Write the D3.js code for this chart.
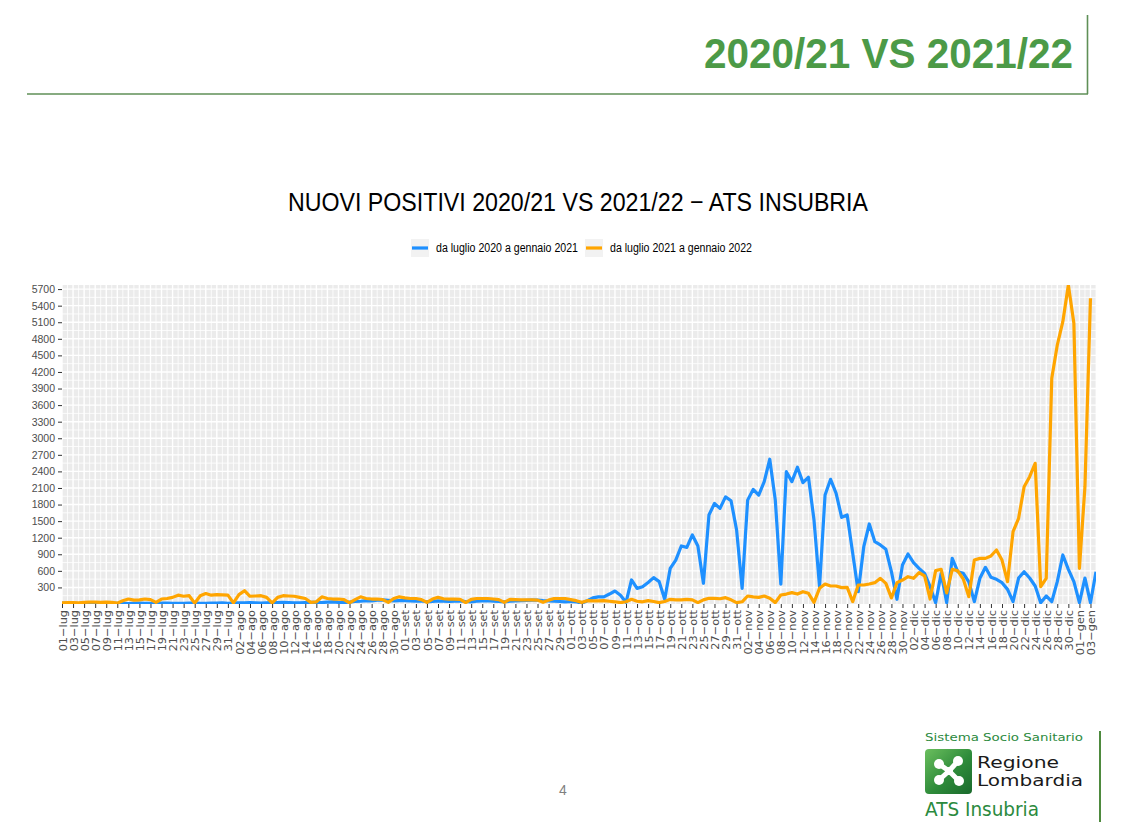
<!DOCTYPE html>
<html><head><meta charset="utf-8">
<script src="https://cdn.jsdelivr.net/npm/d3@7"></script>
<style>body{margin:0;background:#fff;} svg{display:block;}</style>
</head><body>
<svg id="c" width="1122" height="822"></svg>
<script>
// ---- data ----
const monthNames = ["lug","ago","set","ott","nov","dic","gen"];
const monthLengths = [31,31,30,31,30,31,4];
const categories = [];
monthNames.forEach((m, mi) => {
  for (let d = 1; d <= monthLengths[mi]; d++) categories.push(String(d).padStart(2, "0") + "\u2212" + m);
});
const series2020 = [
  15,12,10,8,10,14,12,15,10,12,
  14,10,8,12,15,14,10,12,15,16,
  14,10,12,18,15,14,10,16,18,20,
  14,18,20,22,25,20,15,20,24,26,
  28,25,20,22,25,30,28,25,35,40,
  30,25,35,45,50,60,55,70,75,65,
  55,60,60,55,50,55,40,45,55,50,
  45,50,55,45,40,50,55,60,50,45,
  40,50,55,60,65,70,72,60,55,50,
  45,40,45,40,15,60,110,130,130,180,
  235,160,30,435,283,313,390,477,405,85,
  645,795,1050,1025,1250,1050,375,1610,1820,1730,
  1940,1870,1340,283,1880,2075,1970,2215,2620,1880,
  360,2395,2215,2475,2197,2294,1520,313,1973,2257,
  2003,1569,1611,917,223,1037,1448,1128,1068,990,
  585,85,706,905,748,646,555,313,24,555,
  24,827,585,555,400,42,465,664,483,446,
  386,265,42,470,585,470,326,24,145,42,
  404,887,628,404,24,470,24,585
];
const series2021 = [
  20,25,25,20,30,35,35,30,35,30,
  15,60,90,70,75,90,80,30,90,100,
  120,160,140,150,15,150,190,160,170,165,
  160,20,170,240,140,145,150,120,20,120,
  150,145,140,120,100,30,40,130,100,90,
  90,80,20,80,130,100,90,90,80,30,
  100,130,110,100,100,80,30,90,120,95,
  90,90,85,25,85,100,100,100,90,80,
  30,85,80,75,75,75,70,30,70,100,
  100,100,80,60,30,60,55,55,60,50,
  40,25,40,85,50,40,60,45,25,45,
  85,75,75,85,75,25,75,103,103,95,
  115,75,25,40,145,130,120,145,103,25,
  163,180,205,180,223,193,30,283,362,326,
  326,296,302,42,344,344,362,386,465,374,
  110,386,434,494,465,567,507,90,604,628,
  200,628,600,450,133,796,826,826,869,977,
  796,404,1309,1551,2123,2304,2546,313,465,4085,
  4688,5110,5774,5080,646,2123,5533,
  null
];
const yTickValues = d3.range(300, 5701, 300);
const seriesNames = ["da luglio 2020 a gennaio 2021", "da luglio 2021 a gennaio 2022"];
const seriesColors = ["#1E90FF", "#FFA500"];
const allSeries = [series2020, series2021];

// ---- layout ----
const svg = d3.select("#c");
const P = {l: 62, r: 1096, t: 285, b: 604};
const narrow = "'Liberation Sans Narrow','Liberation Sans',Arial,sans-serif";
const green = "#4C9A47";

// header
svg.append("text").attr("x", 1073).attr("y", 68).attr("text-anchor", "end")
  .attr("textLength", 369).attr("lengthAdjust", "spacingAndGlyphs")
  .style("font-family", "'Liberation Sans',Arial,sans-serif").style("font-weight", "bold")
  .style("font-size", "42px").style("fill", green).text("2020/21 VS 2021/22");
svg.append("line").attr("x1", 27).attr("x2", 1088).attr("y1", 94).attr("y2", 94)
  .style("stroke", "#5F8F57").style("stroke-width", 1.6);
svg.append("line").attr("x1", 1087.5).attr("x2", 1087.5).attr("y1", 15).attr("y2", 94)
  .style("stroke", "#5F8F57").style("stroke-width", 1.6);

// title
svg.append("text").attr("x", 578).attr("y", 211).attr("text-anchor", "middle")
  .attr("textLength", 580).attr("lengthAdjust", "spacingAndGlyphs")
  .style("font-family", narrow).style("font-size", "26px").style("fill", "#000")
  .text("NUOVI POSITIVI 2020/21 VS 2021/22 \u2212 ATS INSUBRIA");

// legend
const legendItems = [{x: 411, tx: 436, tl: 142}, {x: 585, tx: 610, tl: 142}];
legendItems.forEach((li, i) => {
  svg.append("rect").attr("x", li.x).attr("y", 239).attr("width", 18).attr("height", 18).style("fill", "#F2F2F2");
  svg.append("line").attr("x1", li.x + 1).attr("x2", li.x + 17).attr("y1", 248).attr("y2", 248)
    .style("stroke", seriesColors[i]).style("stroke-width", 3.2);
  svg.append("text").attr("x", li.tx).attr("y", 252).attr("textLength", li.tl).attr("lengthAdjust", "spacingAndGlyphs")
    .style("font-family", narrow).style("font-size", "12px").style("fill", "#000").text(seriesNames[i]);
});

// scales
const x = d3.scalePoint().domain(categories).range([P.l, P.r]).padding(0);
const yMax = d3.max(allSeries.flat().filter(v => v != null));
const y = d3.scaleLinear().domain([0, yMax]).range([P.b, P.t]);

// panel
svg.append("rect").attr("x", P.l).attr("y", P.t).attr("width", P.r - P.l).attr("height", P.b - P.t).style("fill", "#EBEBEB");
const grid = svg.append("g");
const minorY = d3.range(150, yMax, 300);
grid.selectAll(".my").data(minorY).enter().append("line")
  .attr("x1", P.l).attr("x2", P.r).attr("y1", d => y(d)).attr("y2", d => y(d))
  .style("stroke", "#fff").style("stroke-width", 0.8);
grid.selectAll(".mx").data(categories.filter((d, i) => i % 2 === 1)).enter().append("line")
  .attr("x1", d => x(d)).attr("x2", d => x(d)).attr("y1", P.t).attr("y2", P.b)
  .style("stroke", "#fff").style("stroke-width", 0.8);
grid.selectAll(".My").data(yTickValues).enter().append("line")
  .attr("x1", P.l).attr("x2", P.r).attr("y1", d => y(d)).attr("y2", d => y(d))
  .style("stroke", "#fff").style("stroke-width", 1.4);
const xTickValues = categories.filter((d, i) => i % 2 === 0);
grid.selectAll(".Mx").data(xTickValues).enter().append("line")
  .attr("x1", d => x(d)).attr("x2", d => x(d)).attr("y1", P.t).attr("y2", P.b)
  .style("stroke", "#fff").style("stroke-width", 1.4);

// lines
svg.append("defs").append("clipPath").attr("id", "clip").append("rect")
  .attr("x", P.l).attr("y", P.t).attr("width", P.r - P.l).attr("height", P.b - P.t);
const line = d3.line().defined(v => v != null).x((d, i) => x(categories[i])).y(d => y(d));
allSeries.forEach((s, i) => {
  svg.append("path").datum(s).attr("d", line).attr("clip-path", "url(#clip)")
    .style("fill", "none").style("stroke", seriesColors[i]).style("stroke-width", 3.2)
    .style("stroke-linejoin", "round");
});

// axes
const ya = svg.append("g").attr("transform", `translate(${P.l},0)`)
  .call(d3.axisLeft(y).tickValues(yTickValues).tickFormat(d3.format("d")).tickSize(4).tickPadding(3));
ya.select(".domain").remove();
ya.selectAll("line").style("stroke", "#333").style("stroke-width", 1);
ya.selectAll("text").style("font-family", "'Liberation Sans',Arial,sans-serif").style("font-size", "10.5px").style("fill", "#4D4D4D");

const xa = svg.append("g").attr("transform", `translate(0,${P.b})`)
  .call(d3.axisBottom(x).tickValues(xTickValues).tickSize(4));
xa.select(".domain").remove();
xa.selectAll("line").style("stroke", "#333").style("stroke-width", 1);
xa.selectAll("text").attr("transform", "rotate(-90)").attr("x", -6).attr("y", 0).attr("dy", "0.36em")
  .style("text-anchor", "end").style("font-family", "'DejaVu Sans',sans-serif").style("font-size", "11.3px").style("fill", "#4D4D4D");

// page number
svg.append("text").attr("x", 563).attr("y", 795).attr("text-anchor", "middle")
  .style("font-family", "'Liberation Sans',Arial,sans-serif").style("font-size", "14px").style("fill", "#7F7F7F").text("4");

// logo
const lg = "#2B8A3E";
const defs = svg.select("defs");
const grad = defs.append("linearGradient").attr("id", "lgrad").attr("x1", "0").attr("y1", "0").attr("x2", "1").attr("y2", "1");
grad.append("stop").attr("offset", "0%").attr("stop-color", "#6BBF5E");
grad.append("stop").attr("offset", "55%").attr("stop-color", "#2E8B3A");
grad.append("stop").attr("offset", "100%").attr("stop-color", "#1A6A2C");
svg.append("text").attr("x", 925).attr("y", 741).attr("textLength", 158).attr("lengthAdjust", "spacingAndGlyphs")
  .style("font-family", "'DejaVu Sans',sans-serif").style("font-size", "11px").style("fill", lg).text("Sistema Socio Sanitario");
svg.append("rect").attr("x", 925).attr("y", 749).attr("width", 47).attr("height", 45).attr("rx", 4).style("fill", "url(#lgrad)");
const cx = 949, cy = 771;
const petals = [[-10, -7], [9, -10], [-10, 9], [10, 10]];
petals.forEach(p => {
  svg.append("line").attr("x1", cx).attr("y1", cy).attr("x2", cx + p[0]).attr("y2", cy + p[1])
    .style("stroke", "#fff").style("stroke-width", 5).style("stroke-linecap", "round");
  svg.append("circle").attr("cx", cx + p[0]).attr("cy", cy + p[1]).attr("r", 5).style("fill", "#fff");
});
svg.append("circle").attr("cx", cx).attr("cy", cy).attr("r", 4).style("fill", "#fff");
svg.append("text").attr("x", 977).attr("y", 768).attr("textLength", 82).attr("lengthAdjust", "spacingAndGlyphs")
  .style("font-family", "'DejaVu Sans',sans-serif").style("font-size", "15px").style("fill", "#1a1a1a").text("Regione");
svg.append("text").attr("x", 977).attr("y", 786).attr("textLength", 106).attr("lengthAdjust", "spacingAndGlyphs")
  .style("font-family", "'DejaVu Sans',sans-serif").style("font-size", "15px").style("fill", "#1a1a1a").text("Lombardia");
svg.append("text").attr("x", 925).attr("y", 816).attr("textLength", 114).attr("lengthAdjust", "spacingAndGlyphs")
  .style("font-family", "'DejaVu Sans',sans-serif").style("font-size", "19px").style("fill", lg).text("ATS Insubria");
svg.append("line").attr("x1", 1100).attr("x2", 1100).attr("y1", 731).attr("y2", 822)
  .style("stroke", "#4E8A3E").style("stroke-width", 2);
</script>
</body></html>
